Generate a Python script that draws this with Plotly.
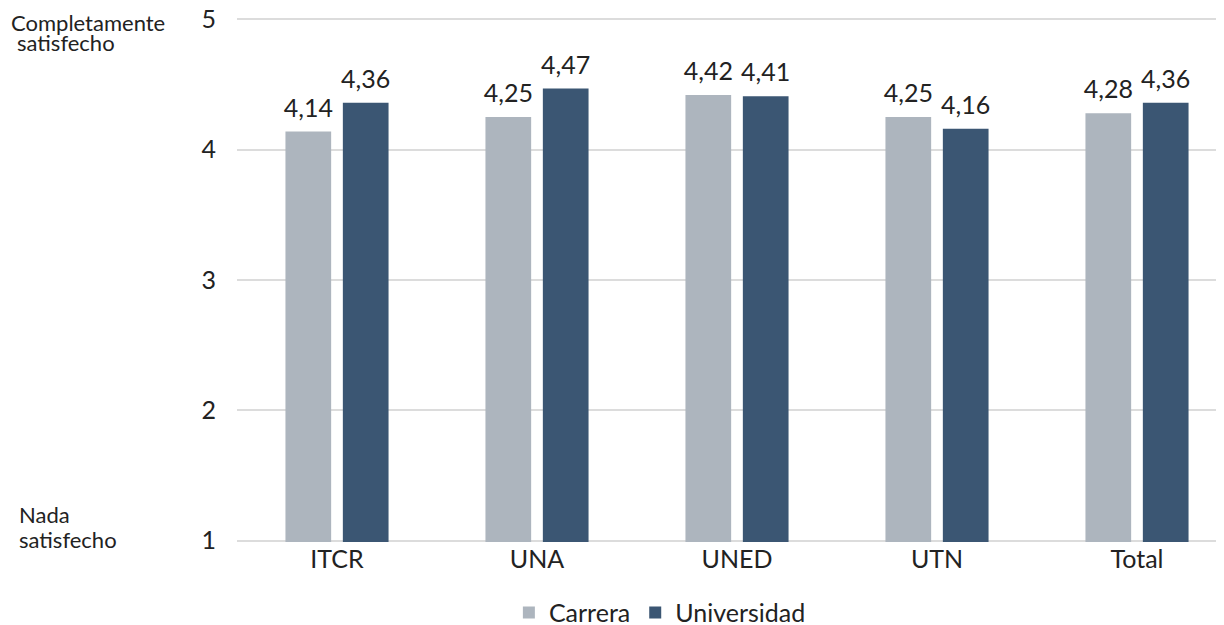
import plotly.graph_objects as go

categories = ["ITCR", "UNA", "UNED", "UTN", "Total"]
carrera = [4.14, 4.25, 4.42, 4.25, 4.28]
universidad = [4.36, 4.47, 4.41, 4.16, 4.36]
series_names = ["Carrera", "Universidad"]
y_ticks = [1, 2, 3, 4, 5]

def fmt(v):
    return f"{v:.2f}".replace(".", ",")

FONT = "Lato"
FS = 25
GAP = 0.426
fig = go.Figure()
for i, (name, vals, col) in enumerate([(series_names[0], carrera, "#ADB5BE"),
                                       (series_names[1], universidad, "#3B5673")]):
    fig.add_trace(go.Bar(
        x=categories, y=vals, name=name, offsetgroup=str(i),
        marker=dict(color=col, line=dict(width=0)),
    ))
for i, vals in enumerate([carrera, universidad]):
    fig.add_trace(go.Scatter(
        x=categories, y=vals, offsetgroup=str(i), mode="markers+text",
        marker=dict(size=12, color="rgba(0,0,0,0)"),
        text=[fmt(v) for v in vals], textposition="top center",
        textfont=dict(size=FS, color="#222", family=FONT),
        showlegend=False, cliponaxis=False, hoverinfo="skip",
    ))

ann_font = dict(size=22, family=FONT, color="#222")
side_labels = [
    ("Completamente", -0.229, 0.9914),
    ("satisfecho", -0.2231, 0.9532),
    ("Nada", -0.2211, 0.0525),
    ("satisfecho", -0.2211, 0.0048),
]

fig.update_layout(
    template="none",
    width=1224, height=625,
    margin=dict(l=229, r=0, t=10, b=91, pad=0, autoexpand=False),
    plot_bgcolor="white", paper_bgcolor="white",
    font=dict(family=FONT, size=FS, color="#222"),
    barmode="group", bargap=GAP, bargroupgap=0.204,
    scattermode="group", scattergap=GAP,
    showlegend=True,
    legend=dict(orientation="h", x=0.425, xanchor="center", y=-0.135, yanchor="middle",
                font=dict(size=FS, family=FONT), itemwidth=30, bgcolor="rgba(0,0,0,0)"),
    xaxis=dict(range=[-0.5, 4.475], showgrid=False, showline=False, ticks="", automargin=False,
               zeroline=False, tickfont=dict(size=FS, family=FONT)),
    yaxis=dict(range=[0.99, 5.01], tickvals=y_ticks, ticktext=[str(t) for t in y_ticks],
               showgrid=True, gridcolor="#DCDCDC", gridwidth=2, zeroline=False, automargin=False,
               showline=False, ticks="", ticklabelstandoff=20, ticklabeloverflow="allow",
               tickfont=dict(size=FS, family=FONT)),
    annotations=[
        dict(text=t, xref="paper", yref="paper", x=x, y=y, xanchor="left", yanchor="middle",
             showarrow=False, font=ann_font)
        for t, x, y in side_labels
    ],
)
fig.write_html("out.html")
